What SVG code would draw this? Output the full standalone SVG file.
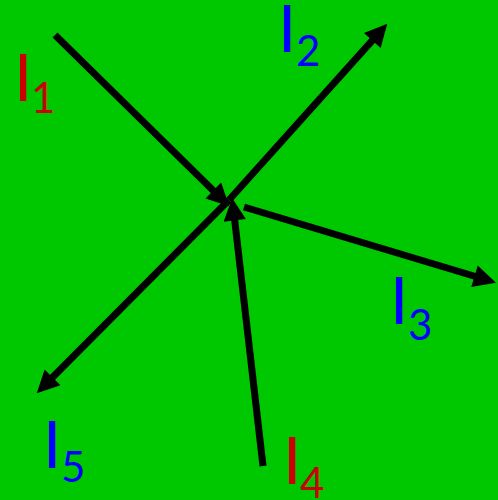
<svg xmlns="http://www.w3.org/2000/svg" width="498" height="500" viewBox="0 0 498 500">
<style>
.c{stroke:#000;stroke-width:7;fill:none;marker-end:url(#ah)}
.t{font-family:Lato,"DejaVu Sans",sans-serif}
.big{font-size:65px}
.sub{font-size:42px}
.r{fill:#cc0000}
.b{fill:#0000ff}
</style>
<defs>
<marker id="ah" viewBox="0 0 10 10" refX="2" refY="5" markerWidth="3.4" markerHeight="3.2" orient="auto" markerUnits="strokeWidth">
<path d="M0,0 L10,5 L0,10 z" fill="#000"/>
</marker>
</defs>
<rect width="498" height="500" fill="#00c800"/>
<g id="connectors">
<line class="c" x1="55" y1="35" x2="216.5" y2="193.7"/>
<line class="c" x1="229" y1="200" x2="375.3" y2="37.1"/>
<line class="c" x1="244" y1="207" x2="478.8" y2="277.5"/>
<line class="c" x1="263" y1="466" x2="234.2" y2="215.9"/>
<line class="c" x1="229" y1="200" x2="49.4" y2="380.5"/>
</g>
<g id="I1" class="t r"><text class="big" x="14" y="101">I</text><text class="sub" x="31" y="113">1</text></g>
<g id="I2" class="t b"><text class="big" x="278" y="52">I</text><text class="sub" x="296" y="66">2</text></g>
<g id="I3" class="t b"><text class="big" x="390" y="324">I</text><text class="sub" x="408" y="340">3</text></g>
<g id="I4" class="t r"><text class="big" x="283" y="484">I</text><text class="sub" x="300" y="498">4</text></g>
<g id="I5" class="t b"><text class="big" x="43" y="468">I</text><text class="sub" x="61" y="482">5</text></g>
</svg>
